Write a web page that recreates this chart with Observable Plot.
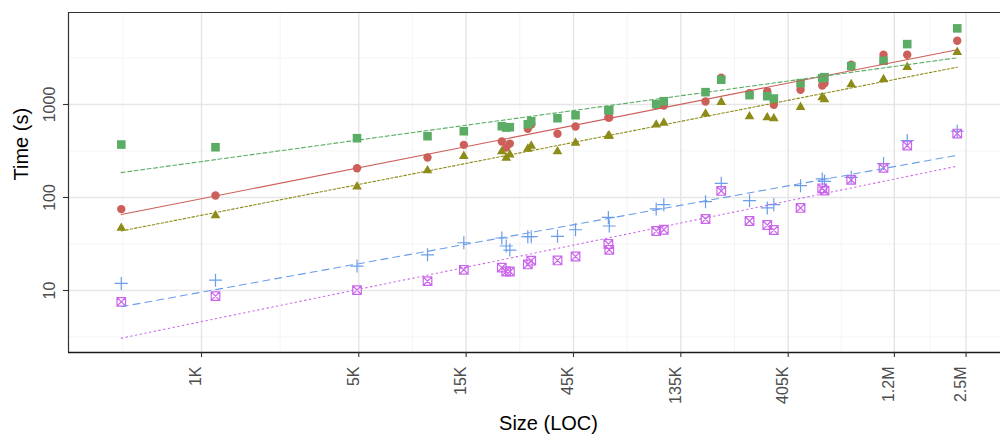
<!DOCTYPE html>
<html>
<head>
<meta charset="utf-8">
<script src="https://cdn.jsdelivr.net/npm/d3@7"></script>
<script src="https://cdn.jsdelivr.net/npm/@observablehq/plot@0.6"></script>
<style>
  html, body { margin: 0; padding: 0; background: #fff; }
</style>
</head>
<body>
<div id="chart"></div>
<script>
// ---- data ----
const sizes = [440, 1154, 4911, 10103, 14648, 21610, 22610, 23460, 28200, 29200, 38210, 45950,
  64300, 64900, 104900, 113400, 173800, 204100, 272600, 326800, 349600, 459500, 573600, 587200,
  771900, 1074300, 1369000, 2284000];

const timesCircle = [75, 105, 206, 269, 368, 400, 344, 380, 547, 610, 484, 580,
  724, 724, 985, 975, 1077, 1939, 1323, 1391, 993, 1440, 1602, 1696,
  2677, 3430, 3430, 4853];

const timesTriangle = [47, 64, 131, 195, 278, 312, 267, 289, 333, 359, 312, 387,
  460, 460, 605, 635, 794, 1059, 743, 724, 707, 935, 1190, 1132,
  1642, 1859, 2521, 3658];

const timesSquare = [371, 347, 434, 456, 516, 584, 565, 570, 613, 661, 712, 767,
  868, 868, 1007, 1085, 1357, 1845, 1260, 1229, 1160, 1696, 1920, 1968,
  2585, 2955, 4461, 6583];

const timesPlus = [11.9, 12.9, 18.3, 24.2, 32.6, 36.7, 30.1, 27.2, 37.9, 37.9, 38.2, 45,
  61.1, 49.4, 75.3, 83.8, 90.2, 142, 92.5, 77.2, 83.8, 134.1, 158.4, 149.3,
  164.8, 231.5, 409.6, 515.8];

const timesBoxCross = [7.55, 8.7, 10.1, 12.6, 16.7, 17.6, 16.0, 16.0, 19.05, 20.9, 21.05, 23.2,
  31.6, 27.4, 43.6, 45, 58.7, 117.6, 55.9, 50.6, 44.7, 77.2, 125.5, 118.5,
  154.5, 208.1, 361.8, 487.2];

const xTicks = [1000, 5000, 15000, 45000, 135000, 405000, 1200000, 2500000];
const xTickLabels = ["1K", "5K", "15K", "45K", "135K", "405K", "1.2M", "2.5M"];
const yTicks = [10, 100, 1000];
const yTickLabels = ["10", "100", "1000"];
const xDomain = [256.4, 3556000];
const yDomain = [2.154, 9755];
const xTitle = "Size (LOC)";
const yTitle = "Time (s)";

// ---- symbols ----
const rad = (size) => Math.sqrt(size / Math.PI);
const symSquare = { draw(c, size) { const r = rad(size); c.moveTo(-r, -r); c.lineTo(r, -r); c.lineTo(r, r); c.lineTo(-r, r); c.closePath(); } };
const symTriangle = { draw(c, size) { const r = rad(size); c.moveTo(0, -r); c.lineTo(r * 0.866, r * 0.5); c.lineTo(-r * 0.866, r * 0.5); c.closePath(); } };
const symPlus = { draw(c, size) { const r = rad(size); c.moveTo(-r, 0); c.lineTo(r, 0); c.moveTo(0, -r); c.lineTo(0, r); } };
const symBoxCross = { draw(c, size) { const r = rad(size); c.moveTo(-r, -r); c.lineTo(r, -r); c.lineTo(r, r); c.lineTo(-r, r); c.closePath(); c.moveTo(-r, -r); c.lineTo(r, r); c.moveTo(r, -r); c.lineTo(-r, r); } };

const series = [
  { times: timesCircle,   color: "#CD5F5A", symbol: "circle",   r: 4.2, filled: true,  dash: null },
  { times: timesTriangle, color: "#8E8C18", symbol: symTriangle, r: 5.6, filled: true,  dash: "2.5,2" },
  { times: timesSquare,   color: "#5BAD66", symbol: symSquare,  r: 4.3, filled: true,  dash: "4,2.5" },
  { times: timesPlus,     color: "#6A9DEA", symbol: symPlus,    r: 6.5, filled: false, dash: "7,5" },
  { times: timesBoxCross, color: "#CB66EC", symbol: symBoxCross, r: 4.3, filled: false, dash: "1.4,3.4" }
];
series.forEach(s => { s.data = sizes.map((x, i) => ({ size: x, time: s.times[i] })); });

// minor grid breaks: midpoints (in log space) between major breaks, extended one step
function minorBreaks(t) {
  const out = [];
  out.push(t[0] / Math.sqrt(t[1] / t[0]));
  for (let i = 0; i < t.length - 1; i++) out.push(Math.sqrt(t[i] * t[i + 1]));
  const n = t.length;
  out.push(t[n - 1] * Math.sqrt(t[n - 1] / t[n - 2]));
  return out;
}
const xMinor = minorBreaks(xTicks);
const yMinor = minorBreaks(yTicks);

const font = "Liberation Sans, Arial, Helvetica, sans-serif";

const marks = [
  Plot.ruleX(xMinor, { stroke: "#F3F3F3", strokeWidth: 0.9 }),
  Plot.ruleY(yMinor, { stroke: "#F3F3F3", strokeWidth: 0.9 }),
  Plot.ruleX(xTicks, { stroke: "#E3E3E3", strokeWidth: 1.3 }),
  Plot.ruleY(yTicks, { stroke: "#E6E6E6", strokeWidth: 1.5 }),
  Plot.ruleY([yDomain[1]], { stroke: "#333333", strokeWidth: 1.2 }),
  Plot.ruleX([xDomain[0]], { stroke: "#333333", strokeWidth: 1.2 }),
  Plot.ruleY([yDomain[0]], { stroke: "#1a1a1a", strokeWidth: 1.3 }),
];

series.forEach(s => {
  marks.push(Plot.dot(s.data, {
    x: "size", y: "time", symbol: s.symbol, r: s.r,
    fill: s.filled ? s.color : "none",
    stroke: s.filled ? "none" : s.color,
    strokeWidth: s.filled ? 0 : 1.2
  }));
});
series.forEach(s => {
  marks.push(Plot.linearRegressionY(s.data, {
    x: "size", y: "time", stroke: s.color, strokeWidth: 1.1, ci: 0,
    strokeDasharray: s.dash || undefined
  }));
});

marks.push(
  Plot.axisX(xTicks, { tickSize: 5, tickFormat: () => "", stroke: "#333333", strokeWidth: 1.1, label: null }),
  Plot.axisY(yTicks, { tickSize: 5, tickFormat: () => "", stroke: "#333333", strokeWidth: 1.1, label: null }),
  Plot.text(xTicks, { x: d => d, text: (d, i) => xTickLabels[i], frameAnchor: "bottom", dy: 14, rotate: -90, textAnchor: "end", fontSize: 16, fill: "#4D4D4D", fontFamily: font }),
  Plot.text(yTicks, { y: d => d, text: (d, i) => yTickLabels[i], frameAnchor: "left", dx: -18.5, rotate: -90, textAnchor: "middle", fontSize: 16, fill: "#4D4D4D", fontFamily: font }),
  Plot.text([xTitle], { text: d => d, frameAnchor: "bottom", dx: 14, dy: 77, fontSize: 20, fill: "#000", fontFamily: font }),
  Plot.text([yTitle], { text: d => d, frameAnchor: "left", dx: -47, dy: -2, rotate: -90, fontSize: 20, fill: "#000", fontFamily: font })
);

const chart = Plot.plot({
  width: 1000,
  height: 442,
  marginTop: 12,
  marginBottom: 90,
  marginLeft: 68,
  marginRight: 0,
  x: { type: "log", domain: xDomain, axis: null },
  y: { type: "log", domain: yDomain, axis: null },
  style: { fontFamily: font, background: "#fff", overflow: "visible" },
  marks
});
document.getElementById("chart").appendChild(chart);
</script>
</body>
</html>
